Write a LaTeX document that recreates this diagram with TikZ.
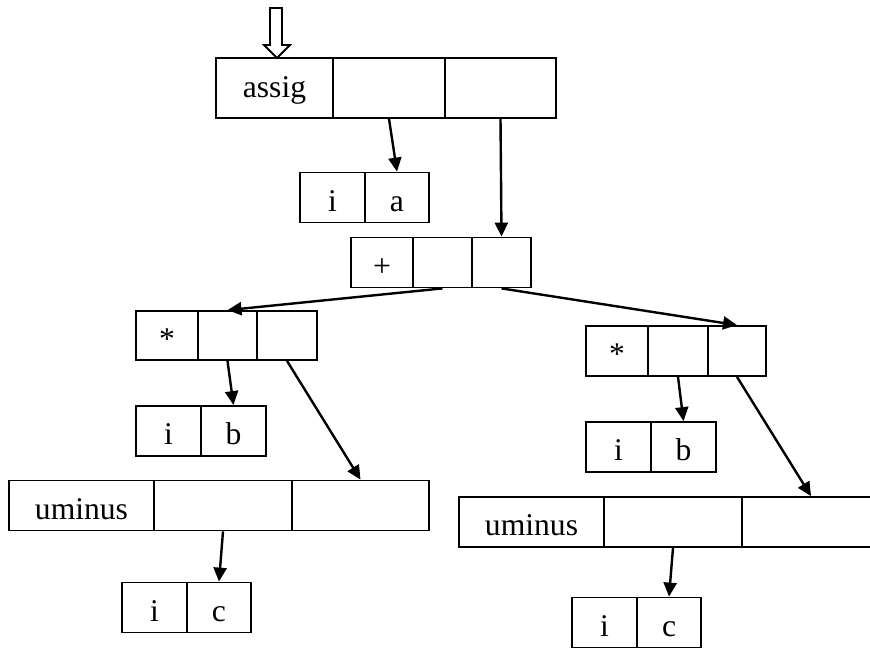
\documentclass[tikz,border=0pt]{standalone}
\usepackage{fontspec}
\setmainfont{Liberation Serif}
\usetikzlibrary{arrows.meta}
\tikzset{
  cell/.style={draw, line width=0.9pt, inner sep=0pt, minimum height=25pt, minimum width=31pt, text height=13.9pt, text depth=0pt, font=\fontsize{15.8}{19}\selectfont},
  ptr/.style={line width=1.2pt, -{Triangle[length=7pt,width=6.5pt]}}
}

\begin{document}
\begin{tikzpicture}[x=0.5pt,y=-0.5pt]
				\useasboundingbox (0,0) rectangle (870,648);
				% root
				\node[cell, minimum height=30pt, minimum width=58.5pt, text height=9pt] (as1) at (274.5,88) {assig};
				\node[cell, minimum height=30pt, minimum width=56pt] (as2) at (389,88) {};
				\node[cell, minimum height=30pt, minimum width=55.5pt] (as3) at (500.5,88) {};
				\coordinate (entry) at (277,58);
				\draw[line width=0.9pt] (entry) -- ++(13,-13) -- ++(-8,0) -- ++(0,-37) -- ++(-12,0) -- ++(0,37) -- ++(-6,0) -- cycle;
				\node[cell, minimum width=32.5pt] (ia1) at (332.5,197.5) {i};
				\node[cell, minimum width=32pt] (ia2) at (397,197.5) {a};
				% plus
				\node[cell] (pl1) at (382,262.5) {+};
				\node[cell, minimum width=29.5pt] (pl2) at (442.5,262.5) {};
				\node[cell, minimum width=29.5pt] (pl3) at (501.5,262.5) {};
				% left subtree
				\node[cell, minimum height=24.5pt] (ml1) at (167,335.5) {*};
				\node[cell, minimum height=24.5pt, minimum width=29.5pt] (ml2) at (227.5,335.5) {};
				\node[cell, minimum height=24.5pt, minimum width=30pt] (ml3) at (287,335.5) {};
				\node[cell, minimum width=32.5pt] (bl1) at (168.5,431) {i};
				\node[cell, minimum width=32.5pt] (bl2) at (233.5,431) {b};
				\node[cell, minimum width=72.5pt] (ul1) at (81.5,505.5) {uminus};
				\node[cell, minimum width=69pt] (ul2) at (223,505.5) {};
				\node[cell, minimum width=68.5pt] (ul3) at (360.5,505.5) {};
				\node[cell, minimum width=32.5pt] (cl1) at (154.5,607.5) {i};
				\node[cell, minimum width=32pt] (cl2) at (219,607.5) {c};
				% right subtree
				\node[cell] (mr1) at (617,351) {*};
				\node[cell, minimum width=30pt] (mr2) at (678,351) {};
				\node[cell, minimum width=29pt] (mr3) at (737,351) {};
				\node[cell, minimum width=32.5pt] (br1) at (618.5,447) {i};
				\node[cell, minimum width=32.5pt] (br2) at (683.5,447) {b};
				\node[cell, minimum width=72.5pt] (ur1) at (531.5,522) {uminus};
				\node[cell, minimum width=69pt] (ur2) at (673,522) {};
				\node[cell, minimum width=69pt] (ur3) at (811,522) {};
				\node[cell, minimum width=32.5pt] (cr1) at (604.5,622.5) {i};
				\node[cell, minimum width=32pt] (cr2) at (669,622.5) {c};
				% pointers
				\draw (as2.south) edge[ptr] (ia2.north);
				\draw (as3.south) edge[ptr] (pl3.north);
				\draw (pl2.south) edge[ptr] (ml2.north);
				\draw (pl3.south) edge[ptr] (mr3.north);
				\draw (ml2.south) edge[ptr] (bl2.north);
				\draw (ml3.south) edge[ptr] (ul3.north);
				\draw (ul2.south) edge[ptr] (cl2.north);
				\draw (mr2.south) edge[ptr] (br2.north);
				\draw (mr3.south) edge[ptr] (ur3.north);
				\draw (ur2.south) edge[ptr] (cr2.north);
			\end{tikzpicture}
\end{document}
